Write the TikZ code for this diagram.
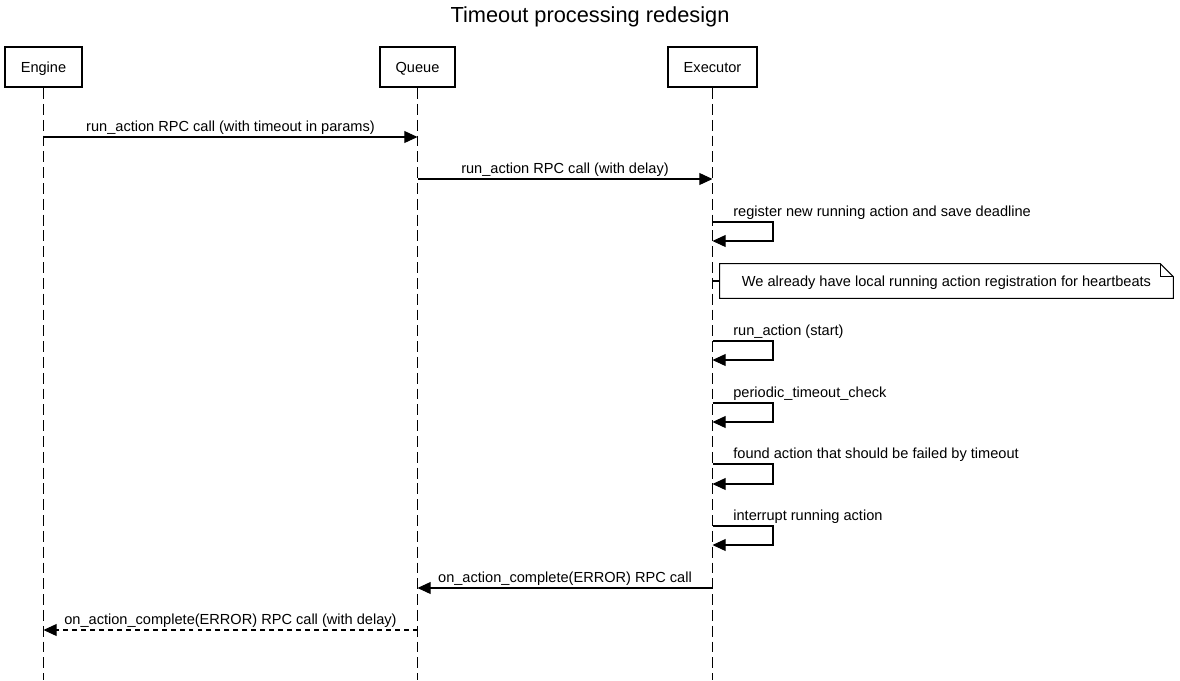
\documentclass[tikz,border=0pt]{standalone}
\usepackage{fontspec}
\setmainfont{Liberation Sans}
\usetikzlibrary{arrows.meta,calc}

\begin{document}
\begin{tikzpicture}[x=0.02cm,y=-0.02cm,
	txt/.style={font=\fontsize{8.3}{10}\selectfont},
	actor/.style={draw,line width=1.3pt,minimum height=0.8cm,inner sep=0pt,text height=6pt,text depth=0pt,txt},
	life/.style={line width=0.6pt,dash pattern=on 6.2pt off 2.8pt},
	msg/.style={line width=0.6pt,-{Triangle[length=7.5pt,width=6.8pt]}},
	back/.style={msg,dash pattern=on 2.8pt off 2.3pt},
	lbl/.style={anchor=base,yshift=3.2pt,inner sep=0pt,txt},
	slbl/.style={anchor=base west,inner sep=0pt,txt}]

	\useasboundingbox (0,0) rectangle (1180,680);

	\node[anchor=base,inner sep=0pt,font=\fontsize{12.4}{15}\selectfont] (title) at (590,22) {Timeout processing redesign};

	% participants
	\node[actor,minimum width=1.54cm] (E) at (43.5,67) {Engine};
	\node[actor,minimum width=1.5cm] (Q) at (417.5,67) {Queue};
	\node[actor,minimum width=1.78cm] (X) at (712.5,67) {Executor};

	\draw[life] (E) -- (E |- 0,680);
	\draw[life] (Q) -- (Q |- 0,680);
	\draw[life] (X) -- (X |- 0,680);

	% calls
	\coordinate (e1) at (E |- 0,137);
	\coordinate (q1) at (Q |- 0,137);
	\draw[msg] (e1) -- node[lbl] {run\_action RPC call (with timeout in params)} (q1);

	\coordinate (q2) at (Q |- 0,179);
	\coordinate (x2) at (X |- 0,179);
	\draw[msg] (q2) -- node[lbl] {run\_action RPC call (with delay)} (x2);

	% self calls on executor
	\coordinate (s1a) at (X |- 0,222);
	\coordinate (s1b) at (X |- 0,241);
	\draw[msg] (s1a) -- ++(60.5,0) -- ++(0,19) -- (s1b);
	\node[slbl] (l1) at (733,216) {register new running action and save deadline};

	% note
	\node[txt,minimum width=9.06cm,minimum height=0.68cm,inner sep=0pt,text height=6pt,text depth=0pt] (N) at (946.5,281) {We already have local running action registration for heartbeats};
	\draw[line width=0.6pt] (N.north west) -- ($(N.north east)+(-13,0)$) -- ($(N.north east)+(0,13)$) -- (N.south east) -- (N.south west) -- cycle;
	\draw[line width=0.6pt] ($(N.north east)+(-13,0)$) |- ($(N.north east)+(0,13)$);
	\coordinate (nx) at (X |- N.west);
	\draw[line width=0.6pt] (nx) -- (N.west);

	\coordinate (s2a) at (X |- 0,341);
	\coordinate (s2b) at (X |- 0,360);
	\draw[msg] (s2a) -- ++(60.5,0) -- ++(0,19) -- (s2b);
	\node[slbl] (l2) at (733,335) {run\_action (start)};

	\coordinate (s3a) at (X |- 0,403);
	\coordinate (s3b) at (X |- 0,422);
	\draw[msg] (s3a) -- ++(60.5,0) -- ++(0,19) -- (s3b);
	\node[slbl] (l3) at (733,397) {periodic\_timeout\_check};

	\coordinate (s4a) at (X |- 0,464);
	\coordinate (s4b) at (X |- 0,484);
	\draw[msg] (s4a) -- ++(60.5,0) -- ++(0,20) -- (s4b);
	\node[slbl] (l4) at (733,458) {found action that should be failed by timeout};

	\coordinate (s5a) at (X |- 0,526);
	\coordinate (s5b) at (X |- 0,545);
	\draw[msg] (s5a) -- ++(60.5,0) -- ++(0,19) -- (s5b);
	\node[slbl] (l5) at (733,520) {interrupt running action};

	% replies
	\coordinate (x6) at (X |- 0,588);
	\coordinate (q6) at (Q |- 0,588);
	\draw[msg] (x6) -- node[lbl] {on\_action\_complete(ERROR) RPC call} (q6);

	\coordinate (q7) at (Q |- 0,630);
	\coordinate (e7) at (E |- 0,630);
	\draw[back] (q7) -- node[lbl] {on\_action\_complete(ERROR) RPC call (with delay)} (e7);

\end{tikzpicture}
\end{document}
